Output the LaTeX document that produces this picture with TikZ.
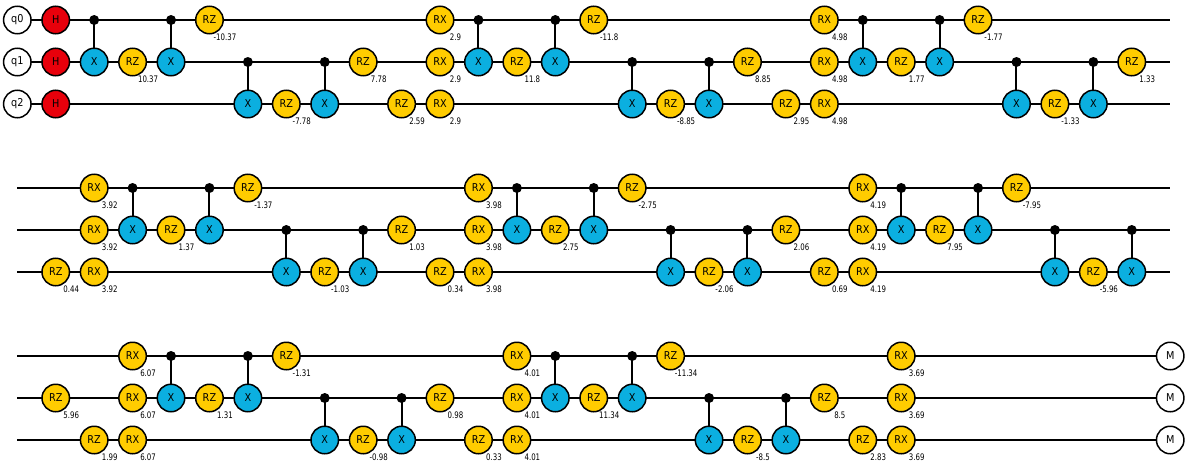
\documentclass[tikz,border=0pt]{standalone}
\usepackage{fontspec}
\setmainfont{DejaVu Sans}
\newfontfamily\gatefont[FakeStretch=0.9]{DejaVu Sans}
\newfontfamily\paramfont[FakeStretch=0.78]{DejaVu Sans}
\usetikzlibrary{backgrounds}
\definecolor{gred}{HTML}{E8000B}
\definecolor{gyel}{HTML}{FFCC00}
\definecolor{gblu}{HTML}{0BAFE0}
\tikzset{
  gatebase/.style={circle,draw=black,line width=1.5pt,minimum size=27.5pt,inner sep=0pt,font=\gatefont\fontsize{10.8}{11}\selectfont},
  hgate/.style={gatebase,fill=gred},
  rotgate/.style={gatebase,fill=gyel},
  xgate/.style={gatebase,fill=gblu},
  whitegate/.style={gatebase,fill=white},
  ctrl/.style={circle,fill=black,minimum size=10pt,inner sep=0pt},
  wire/.style={line width=1.6pt,black},
  vconn/.style={line width=2pt,black},
  param/.style={font=\paramfont\fontsize{9}{9}\selectfont,inner sep=0pt,text=black}
}
\newcommand{\colx}[1]{17.3+38.43*#1}
% #1 set base y, #2 set id, #3 style, #4 text, #5 col, #6 row, #7 param
\newcommand{\gatep}[7]{%
  \node[#3] (g#2r#6c#5) at ({\colx{#5}},{#1+42*#6}) {#4};
  \node[param] (p#2r#6c#5) at ({\colx{#5}+15.5},{#1+42*#6+17}) {#7};
}
% #1 base, #2 set id, #3 col, #4 control row, #5 target row
\newcommand{\cnotg}[5]{%
  \node[ctrl] (d#2r#4c#3) at ({\colx{#3}},{#1+42*#4}) {};
  \node[xgate] (x#2r#5c#3) at ({\colx{#3}},{#1+42*#5}) {X};
  \begin{pgfonlayer}{background}
    \draw[vconn] (d#2r#4c#3.center) -- (x#2r#5c#3.center);
  \end{pgfonlayer}
}
\begin{document}
\begin{tikzpicture}[x=1pt,y=-1pt]
\useasboundingbox (0,0) rectangle (1186,463);
% ---------- first block
\foreach \r/\t in {0/q0,1/q1,2/q2}{
  \node[whitegate] (q\r) at ({\colx{0}},{20+42*\r}) {\t};
  \node[hgate] (h\r) at ({\colx{1}},{20+42*\r}) {H};
  \coordinate (e1r\r) at (1170,{20+42*\r});
  \begin{pgfonlayer}{background}
    \draw[wire] (q\r.center) -- (e1r\r);
  \end{pgfonlayer}
}
\foreach \c/\r in {2/0,4/0,6/1,8/1,12/0,14/0,16/1,18/1,22/0,24/0,26/1,28/1}{
  \pgfmathtruncatemacro{\tr}{\r+1}
  \cnotg{20}{1}{\c}{\r}{\tr}
}
\foreach \c/\r/\v in {3/1/10.37,5/0/-10.37,7/2/-7.78,9/1/7.78,10/2/2.59,13/1/11.8,15/0/-11.8,17/2/-8.85,19/1/8.85,20/2/2.95,23/1/1.77,25/0/-1.77,27/2/-1.33,29/1/1.33}{
  \gatep{20}{1}{rotgate}{RZ}{\c}{\r}{\v}
}
\foreach \c/\v in {11/2.9,21/4.98}{
  \foreach \r in {0,1,2}{
    \gatep{20}{1}{rotgate}{RX}{\c}{\r}{\v}
  }
}
% ---------- second block
\foreach \r in {0,1,2}{
  \coordinate (b2r\r) at (17,{188+42*\r});
  \coordinate (e2r\r) at (1170,{188+42*\r});
  \begin{pgfonlayer}{background}
    \draw[wire] (b2r\r) -- (e2r\r);
  \end{pgfonlayer}
}
\foreach \c/\r in {3/0,5/0,7/1,9/1,13/0,15/0,17/1,19/1,23/0,25/0,27/1,29/1}{
  \pgfmathtruncatemacro{\tr}{\r+1}
  \cnotg{188}{2}{\c}{\r}{\tr}
}
\foreach \c/\r/\v in {1/2/0.44,4/1/1.37,6/0/-1.37,8/2/-1.03,10/1/1.03,11/2/0.34,14/1/2.75,16/0/-2.75,18/2/-2.06,20/1/2.06,21/2/0.69,24/1/7.95,26/0/-7.95,28/2/-5.96}{
  \gatep{188}{2}{rotgate}{RZ}{\c}{\r}{\v}
}
\foreach \c/\v in {2/3.92,12/3.98,22/4.19}{
  \foreach \r in {0,1,2}{
    \gatep{188}{2}{rotgate}{RX}{\c}{\r}{\v}
  }
}
% ---------- third block
\foreach \r in {0,1,2}{
  \coordinate (b3r\r) at (17,{356+42*\r});
  \node[whitegate] (m\r) at ({\colx{30}},{356+42*\r}) {M};
  \begin{pgfonlayer}{background}
    \draw[wire] (b3r\r) -- (m\r.center);
  \end{pgfonlayer}
}
\foreach \c/\r in {4/0,6/0,8/1,10/1,14/0,16/0,18/1,20/1}{
  \pgfmathtruncatemacro{\tr}{\r+1}
  \cnotg{356}{3}{\c}{\r}{\tr}
}
\foreach \c/\r/\v in {1/1/5.96,2/2/1.99,5/1/1.31,7/0/-1.31,9/2/-0.98,11/1/0.98,12/2/0.33,15/1/11.34,17/0/-11.34,19/2/-8.5,21/1/8.5,22/2/2.83}{
  \gatep{356}{3}{rotgate}{RZ}{\c}{\r}{\v}
}
\foreach \c/\v in {3/6.07,13/4.01,23/3.69}{
  \foreach \r in {0,1,2}{
    \gatep{356}{3}{rotgate}{RX}{\c}{\r}{\v}
  }
}
\end{tikzpicture}
\end{document}
